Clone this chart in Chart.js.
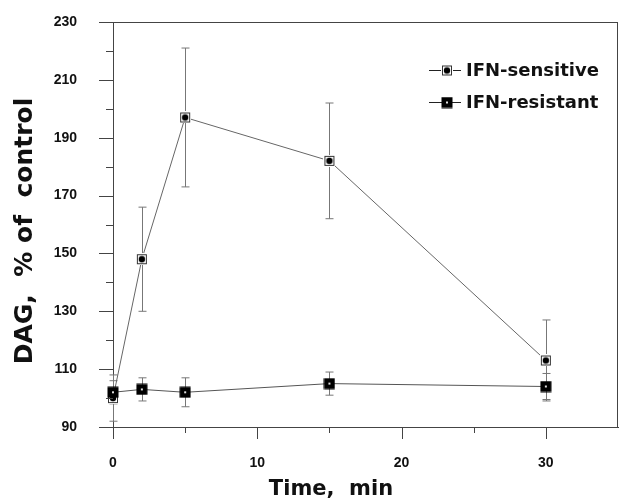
<!DOCTYPE html>
<html>
<head>
<meta charset="utf-8">
<script src="https://cdn.jsdelivr.net/npm/chart.js@4/dist/chart.umd.min.js"></script>
<style>
  body { margin: 0; background: #fff; }
</style>
</head>
<body>
<canvas id="grafico" width="623" height="502"></canvas>
<script>
const tempos = [0, 2, 5, 15, 30]
const sensivel = [100, 148, 197, 182, 113]
const sensivelErro = [8, 18, 24, 20, 14]
const resistente = [102, 103, 102, 105, 104]
const resistenteErro = [4, 4, 5, 4, 4.5]
const ticksY = [90, 110, 130, 150, 170, 190, 210, 230]
const ticksX = [0, 10, 20, 30]

const fonteTitulo = "bold 25px 'DejaVu Sans'"
const fonteLegenda = "bold 18px 'DejaVu Sans'"

function marcadorSensivel() {
  const c = document.createElement('canvas')
  c.width = 12; c.height = 12
  const ctx = c.getContext('2d')
  ctx.fillStyle = '#fff'
  ctx.fillRect(0, 0, 12, 12)
  ctx.strokeStyle = '#333'
  ctx.lineWidth = 1
  ctx.strokeRect(1.5, 1.5, 9, 9)
  ctx.fillStyle = '#000'
  ctx.beginPath()
  ctx.arc(6, 6, 3.2, 0, Math.PI * 2)
  ctx.fill()
  return c
}

function marcadorResistente() {
  const c = document.createElement('canvas')
  c.width = 12; c.height = 12
  const ctx = c.getContext('2d')
  ctx.fillStyle = '#000'
  ctx.fillRect(0.5, 0.5, 11, 11)
  ctx.fillStyle = '#ddd'
  ctx.fillRect(5, 5, 2, 2)
  return c
}

const imgSensivel = marcadorSensivel()
const imgResistente = marcadorResistente()

// barras de erro, desenhadas antes das linhas
const barrasErro = {
  id: 'barrasErro',
  beforeDatasetsDraw(chart) {
    const ctx = chart.ctx
    const x = chart.scales.x
    const y = chart.scales.y
    const series = [[sensivel, sensivelErro], [resistente, resistenteErro]]
    ctx.save()
    ctx.strokeStyle = '#777'
    ctx.lineWidth = 1
    series.forEach(([vals, errs]) => {
      vals.forEach((v, i) => {
        const px = Math.round(x.getPixelForValue(tempos[i])) + 0.5
        const topo = y.getPixelForValue(v + errs[i])
        const base = y.getPixelForValue(v - errs[i])
        ctx.beginPath()
        ctx.moveTo(px, topo); ctx.lineTo(px, base)
        ctx.moveTo(px - 4, topo); ctx.lineTo(px + 4, topo)
        ctx.moveTo(px - 4, base); ctx.lineTo(px + 4, base)
        ctx.stroke()
      })
    })
    ctx.restore()
  }
}

// marcas dos eixos, moldura, titulos e legenda
const moldura = {
  id: 'moldura',
  afterDraw(chart) {
    const ctx = chart.ctx
    const area = chart.chartArea
    const x = chart.scales.x
    const y = chart.scales.y
    ctx.save()
    ctx.strokeStyle = '#444'
    ctx.lineWidth = 1
    ctx.beginPath()
    // moldura de cima e da direita
    ctx.moveTo(area.left - 13, area.top + 0.5); ctx.lineTo(area.right, area.top + 0.5)
    ctx.moveTo(area.right - 0.5, area.top); ctx.lineTo(area.right - 0.5, area.bottom)
    // marcas do eixo y
    for (let v = 90; v <= 230; v += 10) {
      const py = Math.round(y.getPixelForValue(v)) + 0.5
      const len = (v - 90) % 20 === 0 ? 14 : 7
      ctx.moveTo(area.left - len, py); ctx.lineTo(area.left, py)
    }
    // marcas do eixo x
    for (let v = 0; v <= 30; v += 5) {
      const px = Math.round(x.getPixelForValue(v)) + 0.5
      const len = v % 10 === 0 ? 12 : 6
      ctx.moveTo(px, area.bottom); ctx.lineTo(px, area.bottom + len)
    }
    ctx.stroke()

    // titulos
    ctx.fillStyle = '#111'
    ctx.textAlign = 'center'
    ctx.textBaseline = 'middle'
    ctx.font = "bold 21px 'DejaVu Sans'"
    ctx.fillText('Time,  min', 331, 490)
    ctx.save()
    ctx.translate(25, 231)
    ctx.rotate(-Math.PI / 2)
    ctx.font = fonteTitulo
    ctx.fillText('DAG,  % of  control', 0, 0)
    ctx.restore()

    // legenda
    const itens = [['IFN-sensitive', imgSensivel, 70], ['IFN-resistant', imgResistente, 102]]
    ctx.font = fonteLegenda
    ctx.textAlign = 'left'
    itens.forEach(([texto, img, py]) => {
      ctx.strokeStyle = '#222'
      ctx.beginPath()
      ctx.moveTo(429, py + 0.5); ctx.lineTo(461, py + 0.5)
      ctx.stroke()
      ctx.drawImage(img, 447 - img.width / 2, py - img.height / 2 + 0.5)
      ctx.fillText(texto, 466, py + 1)
    })
    ctx.restore()
  }
}

new Chart(document.getElementById('grafico'), {
  type: 'line',
  data: {
    datasets: [{
      label: 'IFN-sensitive',
      data: tempos.map((t, i) => ({ x: t, y: sensivel[i] })),
      borderColor: '#666',
      borderWidth: 1,
      pointStyle: imgSensivel,
      order: 1
    }, {
      label: 'IFN-resistant',
      data: tempos.map((t, i) => ({ x: t, y: resistente[i] })),
      borderColor: '#555',
      borderWidth: 1,
      pointStyle: imgResistente,
      order: 0
    }]
  },
  options: {
    responsive: false,
    animation: false,
    clip: false,
    layout: { padding: { top: 22, right: 4, left: 0, bottom: 0 } },
    plugins: {
      legend: { display: false },
      tooltip: { enabled: false }
    },
    scales: {
      x: {
        type: 'linear',
        min: 0,
        max: 35,
        afterFit(scale) {
          scale.height = 75
          scale.paddingLeft = 0
          scale.paddingRight = 0
        },
        afterBuildTicks(scale) { scale.ticks = ticksX.map(v => ({ value: v })) },
        grid: { drawOnChartArea: false, drawTicks: false },
        border: { color: '#444', width: 1 },
        ticks: {
          padding: 28,
          color: '#111',
          font: { family: "'Liberation Sans', Arial", weight: 'bold', size: 14 }
        }
      },
      y: {
        min: 90,
        max: 230,
        afterFit(scale) {
          scale.width = 113
          scale.paddingTop = 8
          scale.paddingBottom = 8
        },
        afterBuildTicks(scale) { scale.ticks = ticksY.map(v => ({ value: v })) },
        grid: { drawOnChartArea: false, drawTicks: false },
        border: { color: '#444', width: 1 },
        ticks: {
          padding: 36,
          color: '#111',
          font: { family: "'Liberation Sans', Arial", weight: 'bold', size: 14 }
        }
      }
    }
  },
  plugins: [barrasErro, moldura]
})
</script>
</body>
</html>
